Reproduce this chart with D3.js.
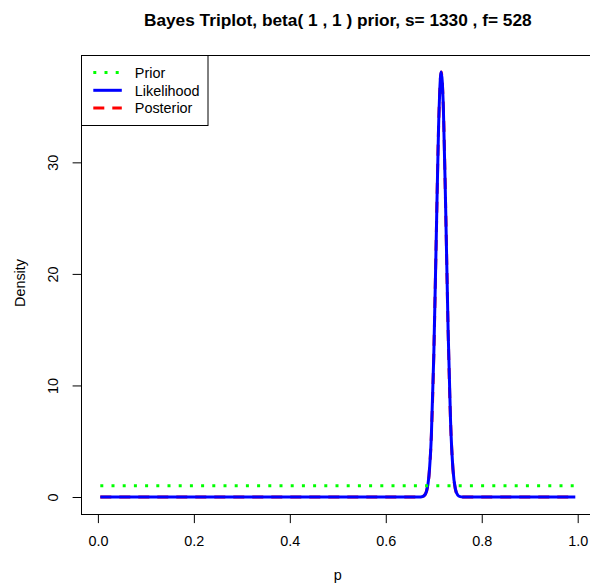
<!DOCTYPE html>
<html>
<head>
<meta charset="utf-8">
<script src="https://cdn.jsdelivr.net/npm/d3@7"></script>
<style>
body { margin: 0; background: #fff; }
text { font-family: "Liberation Sans", Arial, Helvetica, sans-serif; fill: #000; }
</style>
</head>
<body>
<div id="chart"></div>
<script>
// Bayes triplot, beta(1,1) prior, s=1330, f=528

var chartTitle = "Bayes Triplot, beta( 1 , 1 ) prior, s= 1330 , f= 528";

// p grid (curve is flat at 0 outside the peak)
var pValues = [0.005, 0.3, 0.6, 0.65, 0.665, 0.67, 0.675, 0.68, 0.685, 0.69, 0.695,
	       0.70, 0.705, 0.71, 0.7155, 0.72, 0.725, 0.73, 0.735, 0.74, 0.745,
	       0.75, 0.755, 0.76, 0.77, 0.8, 0.9, 0.995];
var posteriorDensity = [0, 0, 0, 0, 0, 0, 0.02, 0.12, 0.53, 1.9, 5.5,
			12.6, 22.8, 33.1, 38.1, 34.9, 25.5, 14.8, 6.8, 2.5, 0.73,
			0.17, 0.03, 0, 0, 0, 0, 0];
var likelihoodDensity = [0, 0, 0, 0, 0, 0, 0.02, 0.12, 0.53, 1.9, 5.5,
			 12.6, 22.8, 33.1, 38.1, 34.9, 25.5, 14.8, 6.8, 2.5, 0.73,
			 0.17, 0.03, 0, 0, 0, 0, 0];
var priorP = [0.005, 0.995];
var priorDensity = [1, 1];

var xTicks = [0, 0.2, 0.4, 0.6, 0.8, 1.0];
var yTicks = [0, 10, 20, 30];

var legendLabels = ["Prior", "Likelihood", "Posterior"];
var legendColors = ["#00ff00", "#0000ff", "#ff0000"];
var legendDash = ["3,8.2", null, "11,8"];

var W = 590, H = 587;
var plotL = 81.3, plotR = 594.3, plotT = 55, plotB = 514;

var svg = d3.select("#chart").append("svg")
    .attr("width", W)
    .attr("height", H);

// R style 4% padding on both axes
var xr = d3.extent(pValues);
var xpad = (xr[1] - xr[0]) * 0.04;
var x = d3.scaleLinear().domain([xr[0] - xpad, xr[1] + xpad]).range([plotL, plotR]);

var ymax = d3.max(posteriorDensity.concat(likelihoodDensity, priorDensity));
var y = d3.scaleLinear().domain([-ymax * 0.04, ymax * 1.04]).range([plotB, plotT]);

var toPts = function(px, py){
    return px.map(function(d, i){ return [d, py[i]]; });
};

var line = d3.line()
    .x(function(d){ return x(d[0]); })
    .y(function(d){ return y(d[1]); })
    .curve(d3.curveMonotoneX);

var plot = svg.append("g");

plot.append("path")
    .datum(toPts(pValues, posteriorDensity))
    .attr("d", line)
    .attr("fill", "none")
    .attr("stroke", "#ff0000")
    .attr("stroke-width", 3)
    .attr("stroke-dasharray", "11,8");

plot.append("path")
    .datum(toPts(pValues, likelihoodDensity))
    .attr("d", line)
    .attr("fill", "none")
    .attr("stroke", "#0000ff")
    .attr("stroke-width", 3);

plot.append("path")
    .datum(toPts(priorP, priorDensity))
    .attr("d", line)
    .attr("fill", "none")
    .attr("stroke", "#00ff00")
    .attr("stroke-width", 3)
    .attr("stroke-dasharray", "3,8.2");

// box
svg.append("rect")
    .attr("x", Math.round(plotL) + 0.5)
    .attr("y", Math.round(plotT) + 0.5)
    .attr("width", Math.round(plotR - plotL))
    .attr("height", Math.round(plotB - plotT))
    .attr("fill", "none")
    .attr("stroke", "#000")
    .attr("stroke-width", 1);

// x axis
var xAxis = svg.append("g")
    .attr("transform", "translate(0," + (Math.round(plotB) + 0.5) + ")")
    .call(d3.axisBottom(x).tickValues(xTicks).tickSize(8.6).tickPadding(12)
	  .tickFormat(d3.format(".1f")));
xAxis.select(".domain").remove();
xAxis.selectAll("text")
    .attr("font-size", "14.4px")
    .attr("dy", null)
    .attr("y", 31.2);

// y axis
var yAxis = svg.append("g")
    .attr("transform", "translate(" + (Math.round(plotL) + 0.5) + ",0)")
    .call(d3.axisLeft(y).tickValues(yTicks).tickSize(8.9));
yAxis.select(".domain").remove();
yAxis.selectAll("text")
    .attr("font-size", "14.4px")
    .attr("x", null)
    .attr("dy", null)
    .attr("text-anchor", "middle")
    .attr("transform", "translate(-23.3,0) rotate(-90)");

svg.selectAll(".tick line").attr("stroke", "#000");

// labels
svg.append("text")
    .attr("x", (plotL + plotR) / 2)
    .attr("y", 25.8)
    .attr("text-anchor", "middle")
    .attr("font-weight", "bold")
    .attr("font-size", "17.28px")
    .text(chartTitle);

svg.append("text")
    .attr("x", (plotL + plotR) / 2)
    .attr("y", 579.5)
    .attr("text-anchor", "middle")
    .attr("font-size", "14.4px")
    .text("p");

svg.append("text")
    .attr("transform", "translate(25,283) rotate(-90)")
    .attr("text-anchor", "middle")
    .attr("font-size", "14.4px")
    .text("Density");

// legend
var leg = svg.append("g");
leg.append("rect")
    .attr("x", 81.5)
    .attr("y", 55.5)
    .attr("width", 126.5)
    .attr("height", 70)
    .attr("fill", "#fff")
    .attr("stroke", "#000");

legendLabels.forEach(function(lab, i){
    var cy = 72.5 + i * 17.8;
    leg.append("line")
	.attr("x1", 93.3).attr("x2", 121.8)
	.attr("y1", cy).attr("y2", cy)
	.attr("stroke", legendColors[i])
	.attr("stroke-width", 3)
	.attr("stroke-dasharray", legendDash[i]);
    leg.append("text")
	.attr("x", 134.8)
	.attr("y", cy + 5.2)
	.attr("font-size", "14.4px")
	.text(lab);
});
</script>
</body>
</html>
